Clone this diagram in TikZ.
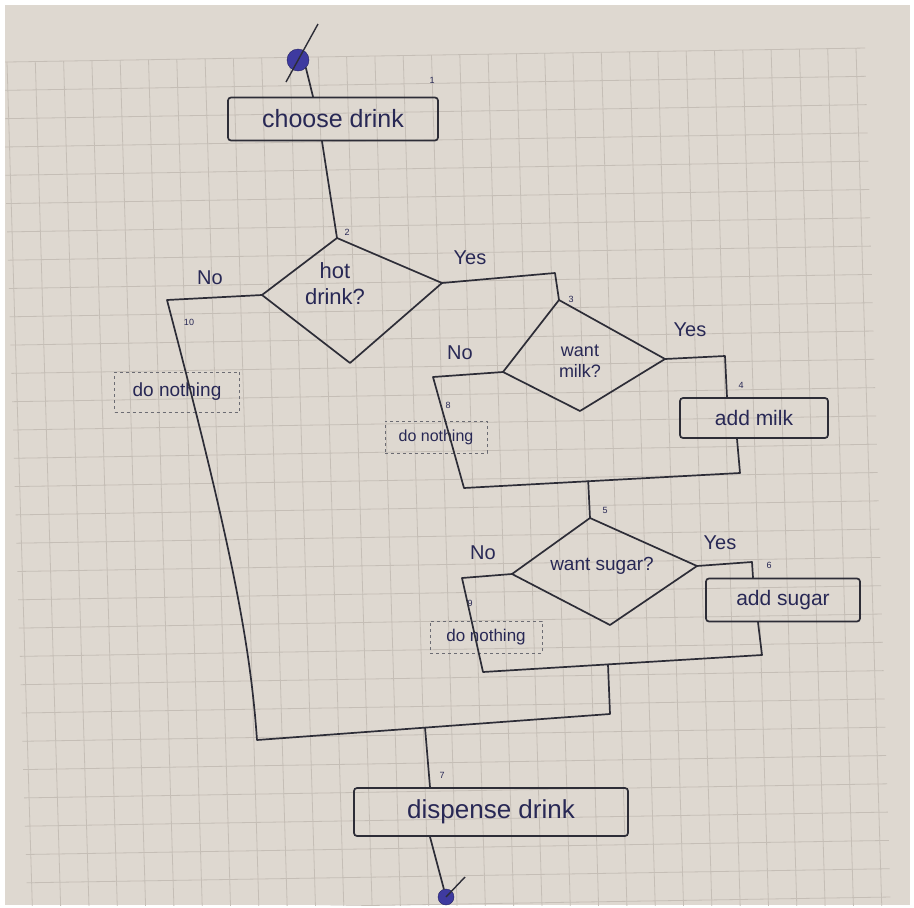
\documentclass[tikz,border=0pt]{standalone}
\usepackage{fontspec}
\setmainfont{Liberation Sans}
\usetikzlibrary{calc}
\definecolor{paper}{RGB}{222,216,208}
\definecolor{gridc}{RGB}{197,190,182}
\definecolor{pen}{RGB}{45,45,55}
\definecolor{ink}{RGB}{40,40,85}
\definecolor{blueink}{RGB}{62,58,160}
\begin{document}
\begin{tikzpicture}[x=1pt,y=-1pt,
  wire/.style={draw=pen,line width=1.7pt,line join=round,line cap=round},
  box/.style={draw=pen,line width=1.7pt,rounded corners=3pt,inner sep=0pt,text=ink},
  lbl/.style={text=ink,font=\fontsize{20}{22}\selectfont,inner sep=0pt},
  qtext/.style={text=ink,align=center,inner sep=0pt},
  num/.style={text=ink,font=\fontsize{9}{10}\selectfont,inner sep=0pt},
  nothing/.style={draw=pen!70,dashed,line width=0.9pt,text=ink,inner sep=0pt},
  dot/.style={circle,fill=blueink,draw=blueink!60!black,inner sep=0pt}]
\useasboundingbox (0,0) rectangle (914,908);
\fill[white] (0,0) rectangle (914,908);
\fill[paper] (5,5) rectangle (910,905);
\begin{scope}
\clip (5,5) rectangle (910,905);
\begin{scope}[shift={(7,62)},x={(1pt,0.0163pt)},y={(0.03pt,-1pt)}]
\foreach \k in {0,...,30} \draw[gridc,line width=0.8pt] (-5,\k*28.3) -- (858,\k*28.3);
\foreach \k in {0,...,30} \draw[gridc,line width=0.8pt] (\k*28.3,0) -- (\k*28.3,860);
\end{scope}
\end{scope}

% start
\node[dot,minimum size=22pt] (start) at (298,60) {};
\draw[pen,line width=1.4pt] ($(start)+(20,-36)$) -- ($(start)+(-12,22)$);

% choose drink
\node[box,minimum width=210pt,minimum height=43pt,font=\fontsize{25}{27}\selectfont] (choose) at (333,119) {choose drink};
\node[num] (n1) at (432,80) {1};
\draw[wire] (start.south east) -- ($(choose.north)+(-20,0)$);

% hot drink diamond
\coordinate (hT) at (337,238);
\coordinate (hL) at (262,295);
\coordinate (hR) at (442,283);
\coordinate (hB) at (350,363);
\draw[wire] (hT) -- (hR) -- (hB) -- (hL) -- cycle;
\node[qtext,font=\fontsize{22}{26}\selectfont] (hot) at (335,284) {hot\\drink?};
\node[num] (n2) at (347,232) {2};
\draw[wire] ($(choose.south)+(-11,0)$) -- (hT);

% outer no loop
\coordinate (noA) at (167,300);
\coordinate (oBL) at (257,740);
\coordinate (oBR) at (610,714);
\node[lbl] (no1) at (210,278) {No};
\node[num] (n10) at (189,322) {10};
\node[nothing,minimum width=125pt,minimum height=40pt,font=\fontsize{19}{21}\selectfont] (dn1) at (177,392) {do nothing};

% yes to milk
\coordinate (y1) at (555,273);
\node[lbl] (yes1) at (470,258) {Yes};

% milk diamond
\coordinate (mT) at (559,300);
\coordinate (mL) at (503,372);
\coordinate (mR) at (665,359);
\coordinate (mB) at (580,411);
\draw[wire] (mT) -- (mR) -- (mB) -- (mL) -- cycle;
\node[qtext,font=\fontsize{18}{21}\selectfont] (milk) at (580,361) {want\\milk?};
\node[num] (n3) at (571,299) {3};
\draw[wire] (hR) -- (y1) -- (mT);

% milk no
\coordinate (mNo) at (433,377);
\coordinate (mBL) at (464,488);
\coordinate (mBR) at (740,473);
\node[lbl] (no2) at (460,353) {No};
\node[num] (n8) at (448,405) {8};
\node[nothing,minimum width=102pt,minimum height=32pt,font=\fontsize{16}{18}\selectfont] (dn2) at (436,437) {do nothing};

% add milk
\node[box,minimum width=148pt,minimum height=40pt,font=\fontsize{21}{23}\selectfont] (addmilk) at (754,418) {add milk};
\coordinate (mY) at (725,356);
\node[lbl] (yes2) at (690,330) {Yes};
\node[num] (n4) at (741,385) {4};
\draw[wire] (mR) -- (mY) -- ($(addmilk.north)+(-27,0)$);
\draw[wire] (mL) -- (mNo) -- (mBL) -- (mBR) -- ($(addmilk.south)+(-17,0)$);
\coordinate (mJ) at ($(mBL)!0.45!(mBR)$);

% sugar diamond
\coordinate (sT) at (590,518);
\coordinate (sL) at (512,574);
\coordinate (sR) at (697,566);
\coordinate (sB) at (610,625);
\draw[wire] (sT) -- (sR) -- (sB) -- (sL) -- cycle;
\node[qtext,font=\fontsize{19}{21}\selectfont] (sugar) at (602,566) {want sugar?};
\node[num] (n5) at (605,510) {5};
\draw[wire] (mJ) -- (sT);

% sugar no
\coordinate (sNo) at (462,578);
\coordinate (sBL) at (483,672);
\coordinate (sBR) at (762,655);
\node[lbl] (no3) at (483,553) {No};
\node[num] (n9) at (470,603) {9};
\node[nothing,minimum width=112pt,minimum height=32pt,font=\fontsize{17}{19}\selectfont] (dn3) at (486,637) {do nothing};

% add sugar
\node[box,minimum width=154pt,minimum height=43pt,font=\fontsize{21}{23}\selectfont] (addsugar) at (783,600) {add sugar};
\coordinate (sY) at (752,562);
\node[lbl] (yes3) at (720,543) {Yes};
\node[num] (n6) at (769,565) {6};
\draw[wire] (sR) -- (sY) -- ($(addsugar.north)+(-30,0)$);
\draw[wire] (sL) -- (sNo) -- (sBL) -- (sBR) -- ($(addsugar.south)+(-25,0)$);
\coordinate (oTR) at ($(sBL)!0.448!(sBR)$);

% outer loop
\draw[wire] (hL) -- (noA) .. controls (230,540) and (250,640) .. (oBL) -- (oBR) -- (oTR);
\coordinate (oM) at ($(oBL)!0.476!(oBR)$);

% dispense
\node[box,minimum width=274pt,minimum height=48pt,font=\fontsize{26}{28}\selectfont] (disp) at (491,812) {dispense drink};
\node[num] (n7) at (442,775) {7};
\draw[wire] (oM) -- ($(disp.north)+(-61,0)$);

% end
\node[dot,minimum size=16pt] (end) at (446,897) {};
\draw[wire] ($(disp.south)+(-61,0)$) -- (end);
\draw[pen,line width=1.4pt] ($(end)+(19,-20)$) -- (end.center);
\end{tikzpicture}
\end{document}
